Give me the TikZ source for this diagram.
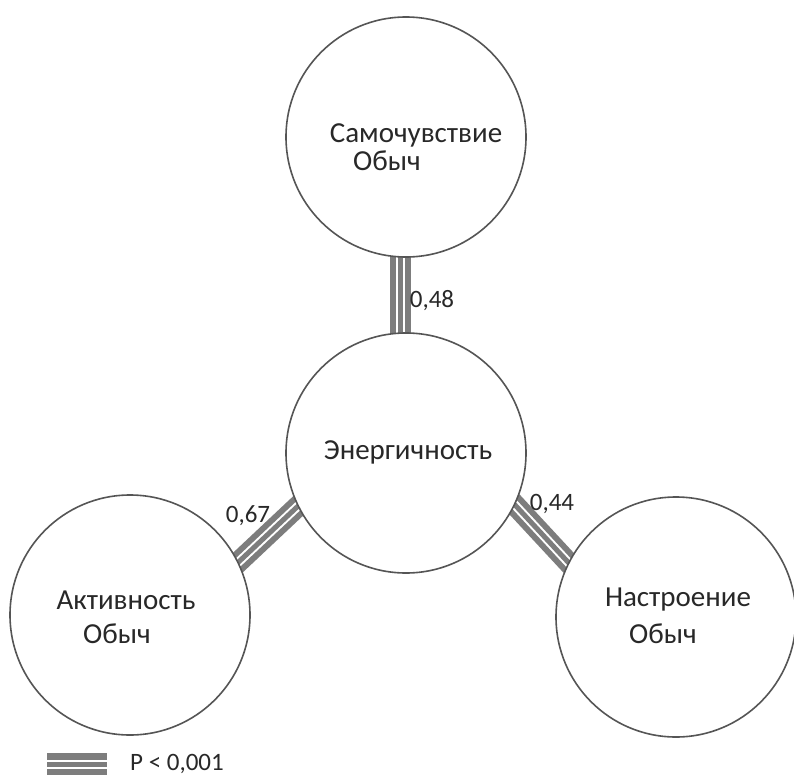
\documentclass[tikz,border=0pt]{standalone}
\usepackage{fontspec}
\setmainfont{Carlito}
\usetikzlibrary{backgrounds}
\definecolor{edgegray}{RGB}{125,125,125}
\definecolor{circgray}{RGB}{85,85,85}
\definecolor{txt}{RGB}{40,40,40}
\tikzset{
  bubble/.style={circle, draw=circgray, line width=1.6pt, fill=white, minimum size=240pt, inner sep=0pt},
  lbl/.style={text=txt, font=\fontsize{29}{34}\selectfont, inner sep=0pt},
  num/.style={text=txt, font=\fontsize{25}{30}\selectfont, inner sep=0pt},
  triple/.style={draw=edgegray, line width=21pt},
  gaps/.style={draw=white, line width=2pt, double=edgegray, double distance=5pt},
}
\begin{document}
\begin{tikzpicture}[x=1pt,y=-1pt]
\useasboundingbox (0,0) rectangle (794,776);
% circles
\node[bubble] (top) at (406,137) {};
\node[bubble] (mid) at (406,453) {};
\node[bubble] (left) at (130,615) {};
\node[bubble] (right) at (676,617) {};
% texts
\node[lbl] (topa) at (416,135) {Самочувствие};
\node[lbl] (topb) at (387,161) {Обыч};
\node[lbl] (mida) at (408,452) {Энергичность};
\node[lbl] (lefta) at (126,600) {Активность};
\node[lbl] (leftb) at (117,634) {Обыч};
\node[lbl] (righta) at (678,600) {Настроение};
\node[lbl] (rightb) at (663,634) {Обыч};
% connector end points
\coordinate (ta) at (400,240);
\coordinate (tb) at (400,350);
\coordinate (la) at (231.4,568.7);
\coordinate (lb) at (311.6,493.3);
\coordinate (ra) at (501.4,490.3);
\coordinate (rb) at (580.6,575.7);
\coordinate (ga) at (47,764);
\coordinate (gb) at (107,764);
\begin{pgfonlayer}{background}
  \fill[white] (0,0) rectangle (794,776);
  \draw[triple] (ta) -- (tb);
  \draw[gaps] (ta) -- (tb);
  \draw[triple] (la) -- (lb);
  \draw[gaps] (la) -- (lb);
  \draw[triple] (ra) -- (rb);
  \draw[gaps] (ra) -- (rb);
\end{pgfonlayer}
\draw[triple, line width=22pt] (ga) -- (gb);
\draw[gaps] (ga) -- (gb);
% labels
\node[num] (n1) at (432,301) {0,48};
\node[num] (n2) at (248,516) {0,67};
\node[num] (n3) at (552,504) {0,44};
\node[num, anchor=west] (leg) at (130,764) {P < 0,001};
\end{tikzpicture}
\end{document}
